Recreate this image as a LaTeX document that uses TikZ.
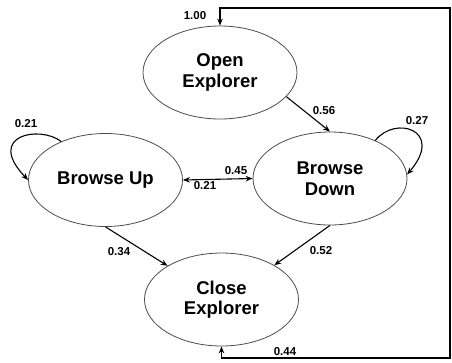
\documentclass[tikz,border=0pt]{standalone}
\usepackage{fontspec}
\setmainfont{Liberation Sans}
\usetikzlibrary{shapes.geometric,arrows.meta}
\begin{document}
\begin{tikzpicture}[x=1pt,y=-1pt,
  state/.style={ellipse,draw=black!70,line width=0.8pt,inner sep=0pt,
    minimum width=154pt,minimum height=93pt,align=center,
    font=\fontsize{18.5}{20.5}\selectfont\bfseries},
  trans/.style={draw=black,line width=1.1pt,-{Stealth[length=7pt,width=5.5pt]}},
  prob/.style={font=\fontsize{11.5}{12}\selectfont\bfseries,inner sep=0pt}]
\useasboundingbox (0,0) rectangle (452,362);

% states
\node[state] (open)  at (220,72.5)  {Open\\Explorer};
\node[state] (up)    at (105.5,180) {Browse Up};
\node[state] (down)  at (330,178.5) {Browse\\Down};
\node[state] (close) at (221.5,299.5) {Close\\Explorer};

% corners of the outer return line
\coordinate (rt) at (450,8);
\coordinate (rb) at (450,358);

% transitions
\draw[trans,{Stealth[length=7pt,width=5.5pt]}-{Stealth[length=7pt,width=5.5pt]}]
  (close.south) |- (rb) -- (rt) -| (open.north);
\draw[trans] (open.-20.6) -- (down.north);
\draw[trans] (down.40) .. controls (395,115) and (445,130) .. (down.3);
\draw[trans] (up.139.5) .. controls (40,125) and (-15,135) .. (up.180);
\draw[trans,{Stealth[length=7pt,width=5.5pt]}-{Stealth[length=7pt,width=5.5pt]}]
  (up.east) -- (down.west);
\draw[trans] (up.south) -- (close.148);
\draw[trans] (down.south) -- (close.33);

% transition probabilities
\node[prob] (p100) at (195,16)   {1.00};
\node[prob] (p056) at (324,111)  {0.56};
\node[prob] (p027) at (417,121)  {0.27};
\node[prob] (p021a) at (26,124)  {0.21};
\node[prob] (p045) at (236,171)  {0.45};
\node[prob] (p021b) at (205,186) {0.21};
\node[prob] (p034) at (119,252)  {0.34};
\node[prob] (p052) at (321,251)  {0.52};
\node[prob] (p044) at (285,352)  {0.44};
\end{tikzpicture}
\end{document}
